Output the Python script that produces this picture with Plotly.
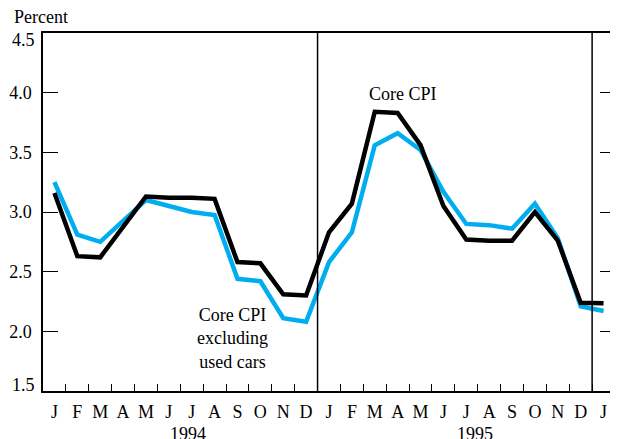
import plotly.graph_objects as go

months = ["J", "F", "M", "A", "M", "J", "J", "A", "S", "O", "N", "D",
          "J", "F", "M", "A", "M", "J", "J", "A", "S", "O", "N", "D", "J"]
years = ["1994", "1995"]

core_cpi = [3.16, 2.63, 2.62, 2.88, 3.13, 3.12, 3.12, 3.11, 2.58, 2.57, 2.31, 2.30,
            2.83, 3.07, 3.84, 3.83, 3.56, 3.05, 2.77, 2.76, 2.76, 3.00, 2.76, 2.24, 2.235]
core_cpi_ex_used_cars = [3.25, 2.81, 2.75, 2.93, 3.10, 3.05, 3.00, 2.975, 2.44, 2.42, 2.11, 2.08,
                         2.58, 2.83, 3.56, 3.66, 3.52, 3.17, 2.90, 2.89, 2.86, 3.07, 2.78, 2.21, 2.17]

y_ticks = [1.5, 2.0, 2.5, 3.0, 3.5, 4.0, 4.5]

x = [i + 0.5 for i in range(len(months))]

FONT = "Liberation Serif"
BLUE = "#00AEEF"
TXT = dict(family=FONT, size=18, color="black")

fig = go.Figure()
fig.add_trace(go.Scatter(x=x, y=core_cpi_ex_used_cars, mode="lines",
                         line=dict(color=BLUE, width=4.5), showlegend=False))
fig.add_trace(go.Scatter(x=x, y=core_cpi, mode="lines",
                         line=dict(color="black", width=4.5), showlegend=False))

for xv in (12, 24):
    fig.add_shape(type="line", xref="x", yref="paper", x0=xv, x1=xv, y0=0, y1=1,
                  line=dict(color="black", width=1.5))

fig.add_annotation(text="Core CPI", x=15.75, y=3.99, xref="x", yref="y",
                   showarrow=False, font=TXT)
fig.add_annotation(text="Core CPI<br>excluding<br>used cars", x=8.28, y=1.94, xref="x", yref="y",
                   showarrow=False, font=TXT)
fig.add_annotation(text="Percent", xref="paper", yref="paper", x=0, y=1, xanchor="left",
                   yanchor="bottom", xshift=-31, yshift=4, showarrow=False, font=TXT)
for yr, xv in zip(years, (6.35, 18.9)):
    fig.add_annotation(text=yr, xref="x", yref="paper", x=xv, y=0, yanchor="top",
                       yshift=-31, showarrow=False, font=TXT)

# end tick labels are nudged inward as in the original
end_ticks = (y_ticks[0], y_ticks[-1])
for v, ys in zip(end_ticks, (6, -7)):
    fig.add_annotation(text=f"{v:.1f}", xref="paper", yref="y", x=0, y=v, xanchor="right",
                       xshift=-6, yshift=ys, showarrow=False, font=TXT)

fig.update_layout(
    width=610, height=431,
    margin=dict(l=29, r=1, t=25, b=48),
    paper_bgcolor="white", plot_bgcolor="white",
    font=TXT,
    xaxis=dict(range=[0, 25], tickvals=x, ticktext=months, ticks="", tickfont=TXT,
               showgrid=False, zeroline=False, showline=True, linecolor="black",
               linewidth=1.5, mirror=True, ticklabelstandoff=4,
               minor=dict(tickvals=list(range(1, 25)), ticks="inside", ticklen=7,
                          tickcolor="black", tickwidth=1.2, showgrid=False)),
    yaxis=dict(range=[1.5, 4.5], tickvals=y_ticks,
               ticktext=["" if v in end_ticks else f"{v:.1f}" for v in y_ticks],
               tickfont=TXT,
               ticks="inside", ticklen=15, tickcolor="black", tickwidth=1.2,
               showgrid=False, zeroline=False, showline=True, linecolor="black",
               linewidth=1.5, mirror="ticks", ticklabelstandoff=6),
)

fig.write_html("out.html")
